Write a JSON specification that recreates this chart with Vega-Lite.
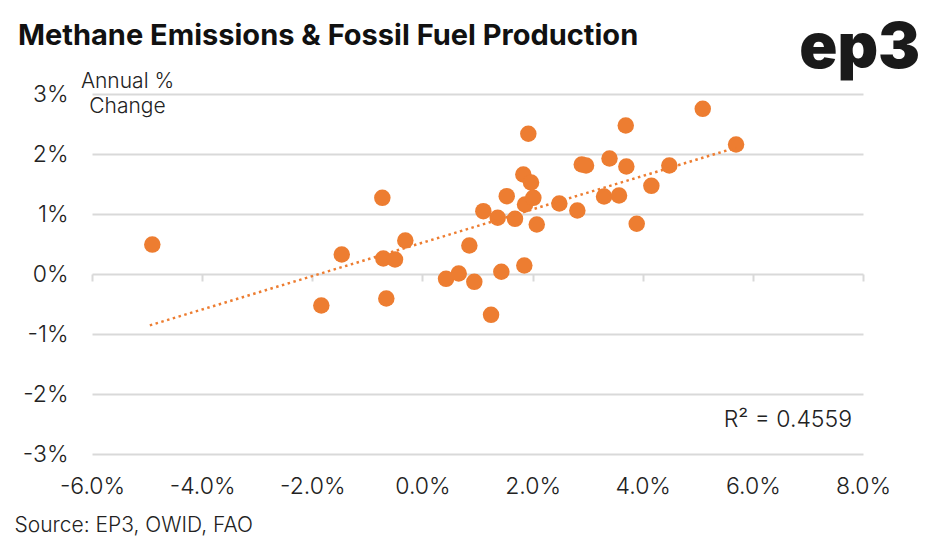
{
  "$schema": "https://vega.github.io/schema/vega-lite/v6.json",
  "width": 771,
  "height": 360,
  "autosize": {"type": "none"},
  "padding": {"left": 92, "top": 94, "right": 80, "bottom": 91},
  "background": "white",
  "config": {"font": "Inter", "view": {"stroke": null}},
  "title": {
    "text": "Methane Emissions & Fossil Fuel Production",
    "anchor": "start",
    "frame": "group",
    "dx": -74,
    "offset": -56,
    "baseline": "alphabetic",
    "fontSize": 29,
    "fontWeight": 700,
    "color": "#111111",
    "font": "Inter"
  },
  "data": {
    "values": [
      {"production": -4.905, "methane": 0.49},
      {"production": -1.836, "methane": -0.525},
      {"production": -1.465, "methane": 0.325},
      {"production": -0.728, "methane": 1.27},
      {"production": -0.71, "methane": 0.258},
      {"production": -0.656, "methane": -0.408},
      {"production": -0.498, "methane": 0.242},
      {"production": -0.311, "methane": 0.558},
      {"production": 0.429, "methane": -0.08},
      {"production": 0.659, "methane": 0.008},
      {"production": 0.852, "methane": 0.475},
      {"production": 0.942, "methane": -0.13},
      {"production": 1.106, "methane": 1.047},
      {"production": 1.367, "methane": 0.937},
      {"production": 1.246, "methane": -0.68},
      {"production": 1.433, "methane": 0.037},
      {"production": 1.531, "methane": 1.297},
      {"production": 1.681, "methane": 0.92},
      {"production": 1.832, "methane": 1.658},
      {"production": 1.972, "methane": 1.525},
      {"production": 1.923, "methane": 2.337},
      {"production": 1.85, "methane": 0.142},
      {"production": 1.863, "methane": 1.158},
      {"production": 2.014, "methane": 1.27},
      {"production": 2.076, "methane": 0.825},
      {"production": 2.486, "methane": 1.175},
      {"production": 2.813, "methane": 1.058},
      {"production": 2.893, "methane": 1.825},
      {"production": 2.971, "methane": 1.808},
      {"production": 3.298, "methane": 1.292},
      {"production": 3.397, "methane": 1.925},
      {"production": 3.57, "methane": 1.308},
      {"production": 3.692, "methane": 2.475},
      {"production": 3.703, "methane": 1.792},
      {"production": 3.891, "methane": 0.837},
      {"production": 4.157, "methane": 1.47},
      {"production": 4.483, "methane": 1.808},
      {"production": 5.09, "methane": 2.753},
      {"production": 5.695, "methane": 2.158}
    ]
  },
  "layer": [
    {
      "mark": {"type": "circle", "size": 272, "color": "#ED7D31", "opacity": 1},
      "encoding": {
        "x": {
          "field": "production",
          "type": "quantitative",
          "scale": {"domain": [-6, 8], "nice": false, "zero": false},
          "axis": {
            "orient": "bottom",
            "values": [-6, -4, -2, 0, 2, 4, 6, 8],
            "labelExpr": "(datum.value < 0 ? '-' : '') + format(abs(datum.value), '.1f') + '%'",
            "labelFontSize": 23,
            "labelFontWeight": 300,
            "labelColor": "#222222",
            "labelPadding": 21,
            "labelBaseline": "top",
            "labelFlush": false,
            "labelOverlap": false,
            "ticks": false,
            "domain": false,
            "grid": false,
            "title": "Source: EP3, OWID, FAO",
            "titleFontSize": 21,
            "titleFontWeight": 300,
            "titleColor": "#222222",
            "titleX": -78,
            "titleY": 71,
            "titleAlign": "left",
            "titleBaseline": "middle"
          }
        },
        "y": {
          "field": "methane",
          "type": "quantitative",
          "scale": {"domain": [-3, 3], "nice": false, "zero": false},
          "axis": {
            "values": [-3, -2, -1, 0, 1, 2, 3],
            "labelExpr": "(datum.value < 0 ? '-' : '') + format(abs(datum.value), '.0f') + '%'",
            "labelFontSize": 23,
            "labelFontWeight": 300,
            "labelColor": "#222222",
            "labelPadding": 24,
            "labelFlush": false,
            "ticks": false,
            "domain": false,
            "grid": true,
            "gridColor": "#d9d9d9",
            "gridWidth": 2,
            "title": ["Annual %", "Change"],
            "titleAngle": 0,
            "titleX": 35,
            "titleY": -24,
            "titleAlign": "center",
            "titleBaseline": "top",
            "titleFontSize": 21,
            "titleFontWeight": 300,
            "titleColor": "#222222",
            "titleLineHeight": 25
          }
        }
      }
    },
    {
      "transform": [
        {"regression": "methane", "on": "production", "extent": [-4.95, 5.7]}
      ],
      "mark": {"type": "line", "color": "#ED7D31", "strokeDash": [2.5, 3.5], "strokeWidth": 2.5},
      "encoding": {
        "x": {
          "field": "production",
          "type": "quantitative",
          "scale": {"domain": [-6, 8], "nice": false, "zero": false},
          "axis": {
            "orient": "bottom",
            "offset": -180,
            "values": [-6, -4, -2, 0, 2, 4, 6, 8],
            "ticks": true,
            "tickSize": 7,
            "tickColor": "#d9d9d9",
            "tickWidth": 2,
            "labels": false,
            "domain": false,
            "grid": false,
            "title": null
          }
        },
        "y": {
          "field": "methane",
          "type": "quantitative",
          "scale": {"domain": [-3, 3], "nice": false, "zero": false}
        }
      }
    },
    {
      "data": {"values": [{"label": "R² = 0.4559"}]},
      "mark": {"type": "text", "align": "right", "baseline": "middle", "fontSize": 23, "fontWeight": 300, "fill": "#222222", "font": "Inter"},
      "encoding": {
        "text": {"field": "label"},
        "x": {"datum": 7.8, "type": "quantitative", "scale": {"domain": [-6, 8], "nice": false, "zero": false}, "axis": null},
        "y": {"datum": -2.44, "type": "quantitative", "scale": {"domain": [-3, 3], "nice": false, "zero": false}}
      }
    },
    {
      "data": {"values": [{"label": "ep3"}]},
      "mark": {"type": "text", "align": "right", "baseline": "alphabetic", "fontSize": 63, "fontWeight": 900, "fill": "#1a1a1a", "letterSpacing": -3, "font": "Inter"},
      "encoding": {
        "text": {"field": "label"},
        "x": {"datum": 9.04, "type": "quantitative", "scale": {"domain": [-6, 8], "nice": false, "zero": false}, "axis": null},
        "y": {"datum": 3.43, "type": "quantitative", "scale": {"domain": [-3, 3], "nice": false, "zero": false}}
      }
    }
  ],
  "resolve": {"axis": {"x": "independent"}}
}
